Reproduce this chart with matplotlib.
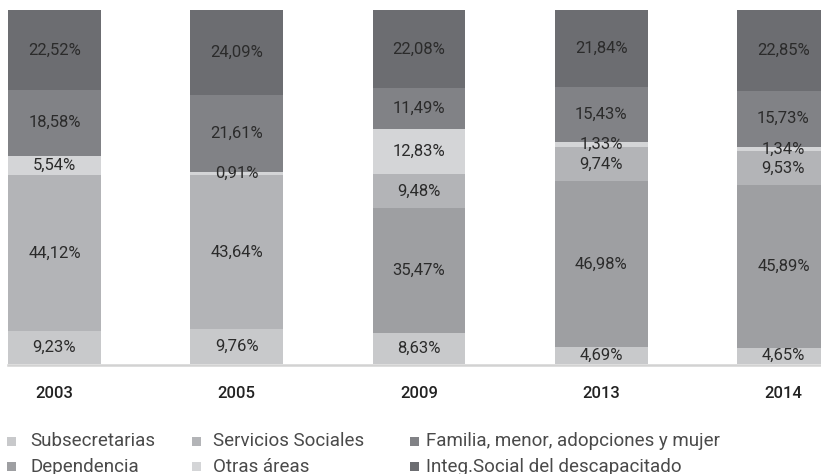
import matplotlib
matplotlib.use("Agg")
import matplotlib.pyplot as plt
from matplotlib.patches import Rectangle
import numpy as np

years = ['2003', '2005', '2009', '2013', '2014']
series_names = ['Subsecretarias', 'Dependencia', 'Servicios Sociales', 'Otras áreas',
                'Familia, menor, adopciones y mujer', 'Integ.Social del descapacitado']
subsecretarias = [9.23, 9.76, 8.63, 4.69, 4.65]
dependencia = [0, 0, 35.47, 46.98, 45.89]
servicios = [44.12, 43.64, 9.48, 9.74, 9.53]
otras = [5.54, 0.91, 12.83, 1.33, 1.34]
familia = [18.58, 21.61, 11.49, 15.43, 15.73]
integ = [22.52, 24.09, 22.08, 21.84, 22.85]
colors = ['#c8c9cb', '#9e9fa2', '#b3b4b7', '#d4d5d7', '#818286', '#6c6d71']

data = [subsecretarias, dependencia, servicios, otras, familia, integ]

W, H = 821, 474
fig = plt.figure(figsize=(W / 100, H / 100), dpi=100)
ax = fig.add_axes([0, 110 / H, 1, 354 / H])

x = np.arange(len(years))
bottom = np.zeros(len(years))
for vals, col in zip(data, colors):
    vals = np.array(vals, dtype=float)
    ax.bar(x, vals, bottom=bottom, width=0.51, color=col, linewidth=0, zorder=2)
    for xi, v, b in zip(x, vals, bottom):
        if v > 0:
            ax.text(xi, b + v / 2, f"{v:.2f}".replace('.', ',') + '%', ha='center', va='center',
                    fontsize=12, family=['Roboto', 'DejaVu Sans'], color='#2b2b2b', zorder=3)
    bottom += vals

ax.set_xlim(-0.299, 4.206)
ax.set_ylim(0, 100)
ax.plot([-0.255, 4.4], [-0.35, -0.35], color='#d2d2d2', lw=1.8, clip_on=False, zorder=1)
for s in ax.spines.values():
    s.set_visible(False)
ax.set_yticks([])
ax.set_xticks(x)
ax.set_xticklabels(years, fontsize=12, family=['Roboto', 'DejaVu Sans'], fontweight='medium', color='#222222')
ax.tick_params(axis='x', length=0, pad=16)

# legend
col_marker_x = [7, 192, 410]
col_text_x = [30, 213, 426]
row_y = [441.5, 466.5]
for i, (name, col) in enumerate(zip(series_names, colors)):
    c, r = i // 2, i % 2
    yc = row_y[r]
    fig.patches.append(Rectangle((col_marker_x[c] / W, (H - yc - 4.5) / H), 9 / W, 9 / H,
                                 transform=fig.transFigure, color=col, linewidth=0))
    fig.text(col_text_x[c] / W, (H - yc) / H, name, ha='left', va='center', fontsize=13.5,
             family=['Roboto', 'DejaVu Sans'], fontweight='normal', color='#4a4a4a')

fig.savefig('out.png', dpi=100)
